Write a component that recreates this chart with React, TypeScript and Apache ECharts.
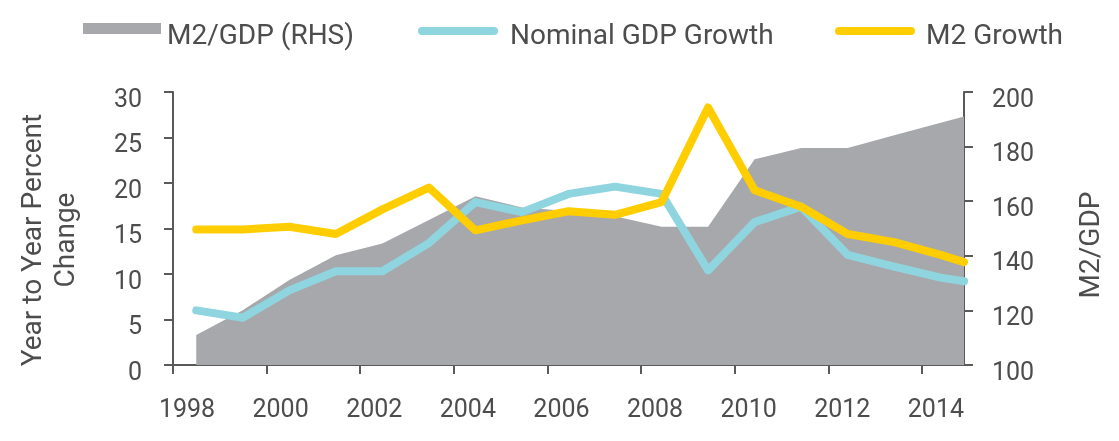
import React, { useEffect, useRef } from "react";
import * as echarts from "echarts";

// Periods (last entry is the partial final period at the right edge)
const PERIODS = [1998, 1999, 2000, 2001, 2002, 2003, 2004, 2005, 2006, 2007, 2008, 2009, 2010, 2011, 2012, 2013, 2014, 2014.5];
const M2_GDP = [111, 120.1, 131.1, 140.2, 144.5, 153.1, 161.8, 157.7, 156.4, 154.5, 150.6, 150.6, 175.4, 179.5, 179.5, 184.2, 188.7, 191];
const NOMINAL_GDP_GROWTH = [6.0, 5.2, 8.2, 10.3, 10.3, 13.4, 17.9, 16.8, 18.8, 19.6, 18.8, 10.4, 15.7, 17.4, 12.1, 10.8, 9.6, 9.2];
const M2_GROWTH = [14.9, 14.9, 15.2, 14.4, 17.1, 19.5, 14.8, 15.9, 16.9, 16.5, 17.9, 28.3, 19.2, 17.4, 14.4, 13.5, 12.1, 11.3];
const X_TICKS = [1998, 2000, 2002, 2004, 2006, 2008, 2010, 2012, 2014];

const NAMES = ["M2/GDP (RHS)", "Nominal GDP Growth", "M2 Growth"];
const GRAY = "#A7A8AB";
const CYAN = "#8FD5DF";
const YELLOW = "#FFCD00";
const AXIS = "#5A5A5A";
const TEXT = "#4D4D4D";
const FONT = "Roboto";

// legend keys: visible shape in the upper part of the key box
const rectKey = "path://M0,0 L78,0 L78,11 L0,11 Z M0,22 Z";
const pillKey = "path://M4,0 L76,0 A4,4 0 0 1 76,8 L4,8 A4,4 0 0 1 4,0 Z M0,14 Z";

export default function App() {
  const ref = useRef<HTMLDivElement>(null);
  useEffect(() => {
    if (!ref.current) return;
    const chart = echarts.init(ref.current, undefined, { renderer: "svg" });
    const pair = (vals: number[]) => PERIODS.map((p, i) => [p, vals[i]]);
    const legendText = { fontFamily: FONT, fontSize: 28, color: TEXT };
    const legendBase = { top: 20, padding: 0, selectedMode: false };
    chart.setOption({
      animation: false,
      textStyle: { fontFamily: FONT },
      grid: { left: 173, right: 155, top: 92, bottom: 76, containLabel: false },
      legend: [
        {
          ...legendBase, data: [NAMES[0]], left: 83, icon: rectKey, itemWidth: 78, itemHeight: 22,
          textStyle: { ...legendText, padding: [0, 0, 0, 1] },
        },
        {
          ...legendBase, data: [NAMES[1]], left: 418, icon: pillKey, itemWidth: 80, itemHeight: 14,
          textStyle: { ...legendText, padding: [0, 0, 0, 7] },
        },
        {
          ...legendBase, data: [NAMES[2]], left: 835, icon: pillKey, itemWidth: 80, itemHeight: 14,
          textStyle: { ...legendText, padding: [0, 0, 0, 6] },
        },
      ],
      xAxis: [
        { type: "value", min: 1997.5, max: 2014.5, show: false, position: "bottom" },
        {
          type: "value", min: 1998, max: 2014.9, position: "bottom",
          axisLine: { show: true, lineStyle: { color: AXIS, width: 2 } },
          axisTick: { show: true, length: 9, lineStyle: { color: AXIS, width: 2 }, customValues: X_TICKS },
          axisLabel: {
            customValues: X_TICKS, fontFamily: FONT, fontSize: 25, color: TEXT, margin: 31,
            padding: [0, 0, 0, 28], formatter: (v: number) => String(Math.round(v)),
          },
          splitLine: { show: false },
        },
      ],
      yAxis: [
        {
          type: "value", min: 0, max: 30, interval: 5, position: "left",
          axisLine: { show: true, lineStyle: { color: AXIS, width: 2 } },
          axisTick: { show: true, length: 9, lineStyle: { color: AXIS, width: 2 } },
          axisLabel: { fontFamily: FONT, fontSize: 25, color: TEXT, margin: 31, verticalAlign: "top", lineHeight: 12 },
          splitLine: { show: false },
        },
        {
          type: "value", min: 100, max: 200, interval: 20, position: "right",
          axisLine: { show: true, lineStyle: { color: AXIS, width: 2 } },
          axisTick: { show: true, length: 9, lineStyle: { color: AXIS, width: 2 } },
          axisLabel: { fontFamily: FONT, fontSize: 25, color: TEXT, margin: 28, verticalAlign: "top", lineHeight: 12 },
          splitLine: { show: false },
        },
      ],
      graphic: [
        {
          type: "text", x: 48, y: 240, rotation: Math.PI / 2,
          style: {
            text: "Year to Year Percent\nChange", fontFamily: FONT, fontSize: 28, fill: TEXT,
            align: "center", verticalAlign: "middle", lineHeight: 33,
          },
        },
        {
          type: "text", x: 1089, y: 245, rotation: Math.PI / 2,
          style: {
            text: "M2/GDP", fontFamily: FONT, fontSize: 28, fill: TEXT,
            align: "center", verticalAlign: "middle",
          },
        },
      ],
      series: [
        {
          name: NAMES[0], type: "line", xAxisIndex: 0, yAxisIndex: 1, data: pair(M2_GDP),
          symbol: "none", lineStyle: { width: 0, color: GRAY }, itemStyle: { color: GRAY },
          areaStyle: { color: GRAY, opacity: 1 }, z: 1,
        },
        {
          name: NAMES[1], type: "line", xAxisIndex: 0, yAxisIndex: 0, data: pair(NOMINAL_GDP_GROWTH),
          symbol: "none", lineStyle: { width: 8, color: CYAN, cap: "round", join: "round" },
          itemStyle: { color: CYAN }, z: 2,
        },
        {
          name: NAMES[2], type: "line", xAxisIndex: 0, yAxisIndex: 0, data: pair(M2_GROWTH),
          symbol: "none", lineStyle: { width: 8, color: YELLOW, cap: "round", join: "round" },
          itemStyle: { color: YELLOW }, z: 3,
        },
      ],
    });
    return () => chart.dispose();
  }, []);
  return <div ref={ref} style={{ position: "fixed", left: 0, top: 0, width: 1119, height: 441 }} />;
}
